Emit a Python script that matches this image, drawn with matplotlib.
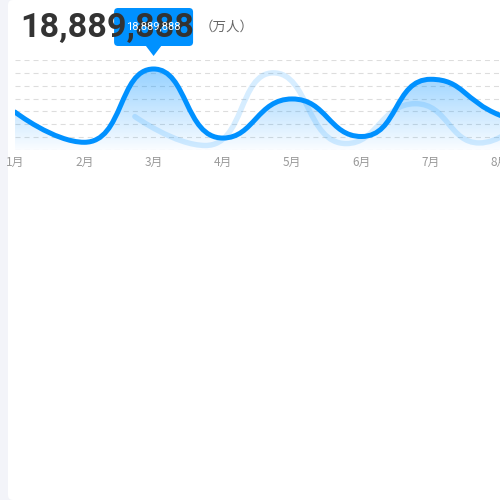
import numpy as np
import matplotlib
matplotlib.use('Agg')
import matplotlib.pyplot as plt
from matplotlib.path import Path
from matplotlib.patches import PathPatch, FancyBboxPatch, Polygon
from matplotlib.transforms import Affine2D

# ---------------- data ----------------
months = ['1月', '2月', '3月', '4月', '5月', '6月', '7月', '8月', '9月']
values = [2.95, 0.6, 6.3, 0.93, 3.97, 1.05, 5.5, 2.7, 1.2]
ghost_x = [1.73, 2.75, 3.73, 4.78, 5.78, 6.70, 7.75]
ghost_values = [2.6, 0.35, 6.0, 0.5, 3.6, 0.55, 5.3]
y_ticks = [0, 1, 2, 3, 4, 5, 6, 7]
title_value = '18,889,888'
unit_label = '（万人）'
tooltip_value = '18,889,888'
highlight_index = 2

# ---------------- style ----------------
BLUE = '#0091ff'
W = H = 500
plt.rcParams['lines.scale_dashes'] = False
CJK = ['Noto Sans CJK SC', 'DejaVu Sans']

fig = plt.figure(figsize=(5, 5), dpi=100)
fig.patch.set_facecolor('#f3f4f9')
px = Affine2D().scale(1 / W, -1 / H).translate(0, 1) + fig.transFigure

card = FancyBboxPatch((8, 0), 600, 500, boxstyle='round,pad=0,rounding_size=5',
                      transform=px, fc='white', ec='none', zorder=-1)
fig.add_artist(card)

ax = fig.add_axes([15 / W, 1 - 150 / H, 485 / W, 90 / H])
ax.patch.set_alpha(0)
for s in ax.spines.values():
    s.set_visible(False)

SX = 485 / 7.0   # px per category
SY = 90 / 7.0    # px per unit


def _clamp(p, a, b):
    lo = np.minimum(a, b)
    hi = np.maximum(a, b)
    return np.minimum(np.maximum(p, lo), hi)


def smooth_path(xs, ys, smooth=0.5):
    """Smoothed bezier path with extreme constraint (no overshoot)."""
    P = np.column_stack([np.asarray(xs, float) * SX, np.asarray(ys, float) * SY])
    n = len(P)
    verts = [tuple(P[0])]
    codes = [Path.MOVETO]
    cp_after_prev = P[0].copy()
    for i in range(1, n):
        p = P[i]
        if i < n - 1:
            prev, nxt = P[i - 1], P[i + 1]
            v = nxt - prev
            l0 = np.hypot(*(p - prev))
            l1 = np.hypot(*(nxt - p))
            r = l1 / (l0 + l1)
            cpn = p + v * smooth * r
            cpn = _clamp(cpn, p, nxt)
            d = cpn - p
            cpb = p - d * l0 / l1
            cpb = _clamp(cpb, prev, p)
            d = p - cpb
            cpn = p + d * l1 / l0
        else:
            cpb = p.copy()
            cpn = p.copy()
        verts += [tuple(cp_after_prev), tuple(cpb), tuple(p)]
        codes += [Path.CURVE4] * 3
        cp_after_prev = cpn
    verts = np.array(verts) / np.array([SX, SY])
    return verts, codes


# grid lines
for yt in y_ticks:
    ax.axhline(yt, color='#dddddd', lw=0.8, dashes=(3.6, 2.9), zorder=1)

xs_main = np.arange(len(values))
mv, mc = smooth_path(xs_main, values)

# gradient fill under main line
fill_verts = np.vstack([mv, [[xs_main[-1], 0], [xs_main[0], 0], [xs_main[0], 0]]])
fill_codes = list(mc) + [Path.LINETO, Path.LINETO, Path.CLOSEPOLY]
fill_patch = PathPatch(Path(fill_verts, fill_codes), fc='none', ec='none',
                       transform=ax.transData)
ax.add_patch(fill_patch)
ymax = max(values)
nrow = 256
grad = np.zeros((nrow, 2, 4))
grad[..., 0] = 0 / 255
grad[..., 1] = 145 / 255
grad[..., 2] = 1.0
grad[..., 3] = np.linspace(0.42, 0.02, nrow)[:, None]
im = ax.imshow(grad, extent=[xs_main[0], xs_main[-1], 0, ymax], origin='upper',
               aspect='auto', zorder=2, interpolation='bilinear')
im.set_clip_path(fill_patch)

# ghost line
gv, gc = smooth_path(ghost_x, ghost_values)
ax.add_patch(PathPatch(Path(gv, gc), fc='none', ec=(0, 145 / 255, 1, 0.16), lw=3.9,
                       capstyle='round', joinstyle='round', zorder=3))
# main line
ax.add_patch(PathPatch(Path(mv, mc), fc='none', ec=BLUE, lw=3.6,
                       capstyle='round', joinstyle='round', zorder=4))

ax.set_yticks([])
ax.set_xticks(range(len(months)))
ax.set_xticklabels(months, family=CJK)
ax.tick_params(axis='x', length=0, pad=4, labelsize=8.5, labelcolor='#999999')
ax.set_xlim(0, 7)
ax.set_ylim(0, 7)

# tooltip
fig.canvas.draw()
tip_x = ax.transData.transform((highlight_index, 0))[0]
box = FancyBboxPatch((tip_x - 39.5, 8), 79, 38, boxstyle='round,pad=0,rounding_size=4',
                     transform=px, fc=BLUE, ec='none', zorder=10)
fig.add_artist(box)
tri = Polygon([(tip_x - 8, 45.5), (tip_x + 8, 45.5), (tip_x, 56)], closed=True,
              transform=px, fc=BLUE, ec='none', zorder=10)
fig.add_artist(tri)

t = fig.text(20, 37, title_value, transform=px, fontsize=25, fontweight='bold',
             color='#333333', family=['Roboto', 'DejaVu Sans'], va='baseline',
             ha='left', zorder=11)
fig.canvas.draw()
w = t.get_window_extent().width
t.set_fontsize(25 * 173 / w)

fig.text(tip_x, 26, tooltip_value, transform=px, fontsize=8, color='white',
         family=['Roboto', 'DejaVu Sans'], ha='center', va='center', zorder=12)
fig.text(200, 26.5, unit_label, transform=px, fontsize=9.7, color='#666666',
         family=CJK, ha='left', va='center', zorder=11)

fig.savefig('out.png', dpi=100)
